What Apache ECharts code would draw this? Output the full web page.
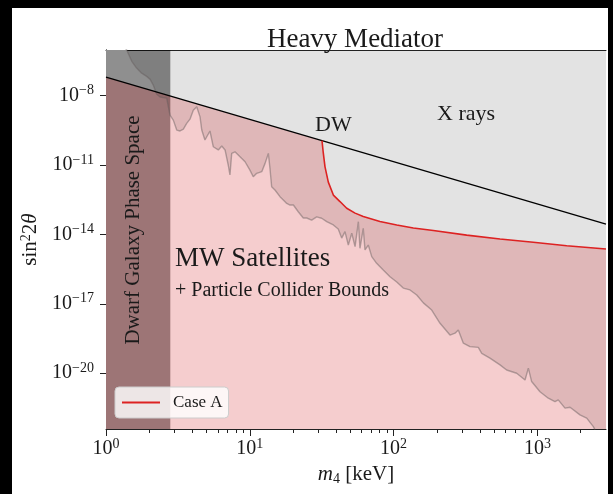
<!DOCTYPE html>
<html><head><meta charset="utf-8">
<script src="https://cdn.jsdelivr.net/npm/echarts@6/dist/echarts.min.js"></script>
<style>html,body{margin:0;padding:0;background:#fff}#c{width:613px;height:494px}</style>
</head><body><div id="c"></div>
<script>
// ---- data (x: log10 of m4 in keV, y: log10 of sin^2 2theta) ----
const X_MIN = 0, X_MAX = 3.477;          // 1 keV .. 3000 keV
const Y_MIN = -22.41, Y_MAX = -6.03;
const xTickExp = [0, 1, 2, 3];
const yTickExp = [-20, -17, -14, -11, -8];
const dwarfBandKeV = [1, 2.8];

// Dodelson-Widrow line (straight in log-log)
const dwLog10M = [0, 3.477];
const dwLog10S = [-7.20, -13.56];

// Case A boundary (red curve)
const caseALog10M = [1.502, 1.511, 1.523, 1.546, 1.581, 1.627, 1.674, 1.732, 1.789, 1.905, 2.022, 2.137, 2.276, 2.508, 2.740, 2.971, 3.204, 3.477];
const caseALog10S = [-9.95, -10.48, -11.08, -11.74, -12.30, -12.58, -12.87, -13.08, -13.23, -13.44, -13.59, -13.72, -13.83, -14.03, -14.20, -14.34, -14.49, -14.63];

// X-ray bound (jagged grey curve); first point lies above the frame
const xrayLog10M = [0.000,0.144,0.179,0.213,0.248,0.283,0.306,0.329,0.353,0.376,0.398,0.422,0.445,0.468,0.492,0.515,0.538,0.561,0.584,0.607,0.631,0.654,0.666,0.688,0.723,0.746,0.781,0.805,0.828,0.850,0.862,0.874,0.897,0.932,0.967,1.001,1.024,1.048,1.083,1.106,1.129,1.140,1.152,1.175,1.210,1.233,1.257,1.280,1.303,1.337,1.372,1.396,1.430,1.465,1.500,1.535,1.581,1.615,1.639,1.662,1.685,1.709,1.732,1.755,1.766,1.789,1.801,1.824,1.848,1.882,1.928,1.975,2.022,2.067,2.114,2.161,2.207,2.265,2.323,2.392,2.427,2.450,2.485,2.531,2.589,2.613,2.670,2.740,2.786,2.856,2.914,2.937,2.960,3.018,3.076,3.122,3.145,3.192,3.227,3.296,3.343,3.354,3.389,3.401];
const xrayLog10S = [-4.80,-6.03,-6.52,-6.81,-7.03,-7.17,-7.29,-7.55,-7.94,-8.06,-8.09,-8.11,-8.84,-9.06,-9.49,-9.53,-9.45,-9.20,-9.02,-8.63,-8.48,-8.92,-9.49,-9.92,-9.53,-10.21,-10.35,-10.18,-10.35,-11.00,-11.43,-10.50,-10.43,-10.64,-10.86,-11.22,-11.51,-11.36,-11.29,-10.93,-10.50,-11.13,-11.94,-12.08,-12.37,-12.51,-12.66,-12.73,-12.73,-13.02,-13.29,-13.29,-13.38,-13.24,-13.30,-13.45,-13.59,-13.77,-14.16,-13.88,-14.46,-13.95,-14.53,-13.45,-14.60,-13.74,-14.67,-14.46,-14.96,-15.25,-15.54,-15.83,-16.06,-16.32,-16.40,-16.62,-16.96,-17.27,-17.84,-18.35,-18.27,-18.13,-18.70,-18.85,-18.88,-19.14,-19.35,-19.64,-19.86,-20.00,-20.29,-19.78,-20.36,-20.80,-21.08,-21.23,-21.15,-21.51,-21.47,-21.80,-21.94,-21.88,-22.31,-22.45];

// ---- build ----
const zip = (a, b) => a.map((v, i) => [v, b[i]]);
const dwLine = zip(dwLog10M, dwLog10S);
const caseA = zip(caseALog10M, caseALog10S);
const xray = zip(xrayLog10M, xrayLog10S);
const boundary = [dwLine[0]].concat(caseA);
const band = [[Math.log10(dwarfBandKeV[0]), Y_MAX], [Math.log10(dwarfBandKeV[1]), Y_MAX]];
const minorTicks = [];
for (let d = 0; d <= 3; d++) for (let k = 2; k <= 9; k++) {
  const v = d + Math.log10(k); if (v <= X_MAX + 1e-9) minorTicks.push(v);
}

const FONT = '"Liberation Serif", "DejaVu Serif", serif';
const TXT = '#1a1a1a';
const supRich = {
  b: {fontFamily: FONT, fontSize: 20, lineHeight: 20, verticalAlign: 'bottom', color: TXT},
  s: {fontFamily: FONT, fontSize: 14, lineHeight: 14, padding: [0, 0, 8, 0], verticalAlign: 'bottom', color: TXT}
};
const powFmt = v => '{b|10}{s|' + (v < 0 ? '\u2212' + (-v) : v) + '}';
const hidden = {opacity: 0, width: 0};

const option = {
  animation: false,
  backgroundColor: '#ffffff',
  title: {
    text: 'Heavy Mediator', left: 350, textAlign: 'center', top: 21,
    textStyle: {fontFamily: FONT, fontSize: 27, fontWeight: 'normal', color: TXT}
  },
  legend: {
    data: ['Case A'], left: 115, top: 387, icon: 'rect', itemWidth: 38, itemHeight: 2,
    padding: [7, 6, 7, 7], backgroundColor: 'rgba(255,255,255,0.82)',
    borderColor: '#cccccc', borderWidth: 1, borderRadius: 4,
    textStyle: {fontFamily: FONT, fontSize: 17, color: TXT, padding: [0, 0, 0, 8]}
  },
  grid: {left: 106, right: 7, top: 50, bottom: 65, show: true, backgroundColor: '#e3e3e3', borderWidth: 0},
  xAxis: [
    {
      type: 'value', min: X_MIN, max: X_MAX, position: 'bottom',
      axisLine: {show: true, lineStyle: {color: '#222', width: 1}},
      axisTick: {show: true, customValues: xTickExp, length: 7, lineStyle: {color: '#222'}},
      axisLabel: {customValues: xTickExp, formatter: powFmt, rich: supRich, margin: 10},
      splitLine: {show: false},
      name: '{i|m}{sub|4}{n| [keV]}', nameLocation: 'middle', nameGap: 32,
      nameTextStyle: {rich: {
        i: {fontFamily: FONT, fontStyle: 'italic', fontSize: 21, lineHeight: 22, color: TXT},
        sub: {fontFamily: FONT, fontSize: 14, lineHeight: 14, padding: [8, 0, 0, 0], color: TXT},
        n: {fontFamily: FONT, fontSize: 21, lineHeight: 22, color: TXT}
      }}
    },
    {
      type: 'value', min: X_MIN, max: X_MAX, position: 'bottom',
      axisLine: {show: false}, axisLabel: {show: false}, splitLine: {show: false},
      axisTick: {show: true, customValues: minorTicks, length: 4, lineStyle: {color: '#222'}}
    },
    {
      type: 'value', min: X_MIN, max: X_MAX, position: 'top',
      axisLine: {show: true, lineStyle: {color: '#222', width: 1}},
      axisTick: {show: false}, axisLabel: {show: false}, splitLine: {show: false}
    }
  ],
  yAxis: [
    {
      type: 'value', min: Y_MIN, max: Y_MAX, position: 'left',
      axisLine: {show: true, lineStyle: {color: '#222', width: 1}},
      axisTick: {show: true, customValues: yTickExp, length: 6, lineStyle: {color: '#222'}},
      axisLabel: {customValues: yTickExp, formatter: powFmt, rich: supRich, margin: 12},
      splitLine: {show: false},
      name: '{n|sin}{s|2}{n|2}{i|\u03b8}', nameLocation: 'middle', nameGap: 64,
      nameTextStyle: {rich: {
        n: {fontFamily: FONT, fontSize: 21, lineHeight: 21, verticalAlign: 'bottom', color: TXT},
        i: {fontFamily: FONT, fontStyle: 'italic', fontSize: 21, lineHeight: 21, verticalAlign: 'bottom', color: TXT},
        s: {fontFamily: FONT, fontSize: 14, lineHeight: 14, padding: [0, 0, 8, 0], verticalAlign: 'bottom', color: TXT}
      }}
    },
    {
      type: 'value', min: Y_MIN, max: Y_MAX, position: 'right',
      axisLine: {show: true, lineStyle: {color: '#444', width: 1}},
      axisTick: {show: false}, axisLabel: {show: false}, splitLine: {show: false}
    }
  ],
  series: [
    // region allowed by X-ray bound (below jagged curve): white
    {type: 'line', data: xray, symbol: 'none', silent: true, lineStyle: hidden,
      areaStyle: {origin: 'start', color: '#ffffff', opacity: 1}},
    // X-ray bound line
    {type: 'line', data: xray, symbol: 'none', silent: true,
      lineStyle: {color: 'rgba(100,92,92,0.45)', width: 1.4}},
    // dwarf galaxy phase-space band
    {type: 'line', data: band, symbol: 'none', silent: true, lineStyle: hidden,
      areaStyle: {origin: 'start', color: 'rgba(0,0,0,0.44)', opacity: 1}},
    // MW satellites region (translucent red) below DW / Case A boundary
    {type: 'line', data: boundary, symbol: 'none', silent: true, lineStyle: hidden,
      areaStyle: {origin: 'start', color: 'rgba(208,21,26,0.214)', opacity: 1}},
    {type: 'line', data: dwLine, symbol: 'none', silent: true,
      lineStyle: {color: '#000', width: 1.3}},
    {type: 'line', name: 'Case A', data: caseA, symbol: 'none', silent: true,
      itemStyle: {color: '#dd2222'}, lineStyle: {color: '#dd2222', width: 1.6}}
  ],
  graphic: [
    {type: 'rect', z: 100, shape: {x: 0, y: 0, width: 12, height: 494}, style: {fill: '#000'}},
    {type: 'rect', z: 100, shape: {x: 0, y: 0, width: 613, height: 8}, style: {fill: '#000'}},
    {type: 'rect', z: 100, shape: {x: 608, y: 0, width: 5, height: 494}, style: {fill: '#000'}},
    {type: 'text', z: 100, x: 437, y: 114.5, style: {text: 'X rays', font: '22px ' + FONT, fill: TXT, textVerticalAlign: 'middle'}},
    {type: 'text', z: 100, x: 315, y: 125, style: {text: 'DW', font: '22px ' + FONT, fill: TXT, textVerticalAlign: 'middle'}},
    {type: 'text', z: 100, x: 175, y: 259, style: {text: 'MW Satellites', font: '27px ' + FONT, fill: TXT, textVerticalAlign: 'middle'}},
    {type: 'text', z: 100, x: 175, y: 291, style: {text: '+ Particle Collider Bounds', font: '20px ' + FONT, fill: TXT, textVerticalAlign: 'middle'}},
    {type: 'text', z: 100, x: 133.5, y: 230, rotation: Math.PI / 2,
      style: {text: 'Dwarf Galaxy Phase Space', font: '21px ' + FONT, fill: TXT, textAlign: 'center', textVerticalAlign: 'middle'}}
  ]
};
const chart = echarts.init(document.getElementById('c'), null, {renderer: 'canvas'});
chart.setOption(option);
</script></body></html>
